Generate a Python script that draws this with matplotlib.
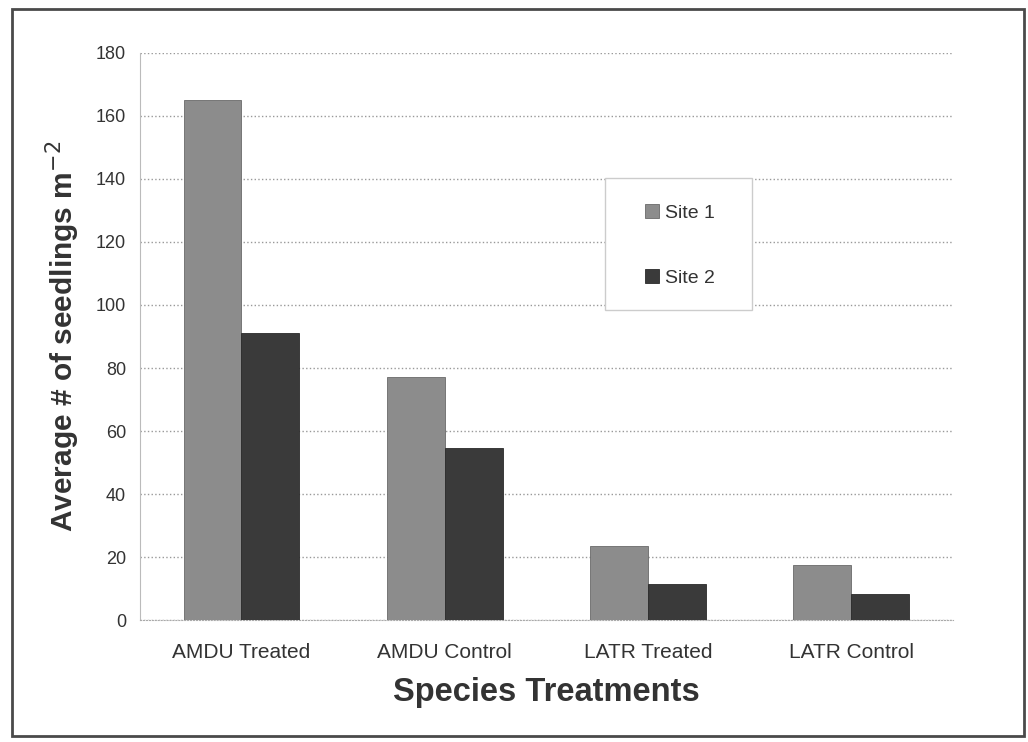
import numpy as np
import matplotlib.pyplot as plt
from matplotlib.patches import Rectangle

# data
treatments = ['AMDU Treated', 'AMDU Control', 'LATR Treated', 'LATR Control']
site1 = [165, 77, 23.5, 17.5]
site2 = [91, 54.5, 11.5, 8.5]
yticks = [0, 20, 40, 60, 80, 100, 120, 140, 160, 180]

plt.rcParams['font.family'] = ['Liberation Sans', 'DejaVu Sans']

fig = plt.figure(figsize=(10.28, 7.42), dpi=100)
ax = fig.add_axes([0.136, 0.164, 0.791, 0.765])

x = np.arange(len(treatments))
w = 0.285
ax.bar(x - w / 2, site1, w, color='#8c8c8c', edgecolor='#6a6a6a', linewidth=0.6, label='Site 1', zorder=3)
ax.bar(x + w / 2, site2, w, color='#3a3a3a', edgecolor='#2a2a2a', linewidth=0.6, label='Site 2', zorder=3)

ax.set_xlim(-0.5, 3.5)
ax.set_ylim(0, 180)
ax.set_yticks(yticks)
ax.set_xticks(x)
ax.set_xticklabels(treatments, fontsize=15, color='#333333')
ax.tick_params(axis='y', labelsize=13, labelcolor='#333333', length=0, pad=10)
ax.tick_params(axis='x', length=0, pad=16)

ax.yaxis.grid(True, linestyle=':', color='#999999', linewidth=1.0, zorder=0)
for s in ['top', 'right']:
    ax.spines[s].set_visible(False)
ax.spines['left'].set_color('#bbbbbb')
ax.spines['bottom'].set_color('#aaaaaa')
ax.spines['bottom'].set_linestyle(':')

ax.set_ylabel('Average # of seedlings m$^{-2}$', fontsize=21.5, fontweight='bold', color='#333333', labelpad=10)
ax.set_xlabel('Species Treatments', fontsize=23.5, fontweight='bold', color='#333333', labelpad=11)

# legend box drawn separately so the padding matches, entries on top of it
ax.add_patch(Rectangle((0.5885, 0.582), 0.143, 0.178, transform=fig.transFigure, clip_on=False,
                       facecolor='white', edgecolor='#cccccc', linewidth=1.0, zorder=4))
leg = ax.legend(loc='upper left', bbox_to_anchor=(0.6274, 0.725), bbox_transform=fig.transFigure,
                fontsize=14, frameon=False, labelspacing=2.45,
                handlelength=0.7, handleheight=0.7, handletextpad=0.35,
                borderpad=0, borderaxespad=0)
leg.set_zorder(5)
for t in leg.get_texts():
    t.set_color('#333333')

# outer border around the whole chart
fig.patches.append(Rectangle((0.012, 0.008), 0.984, 0.980, transform=fig.transFigure,
                             fill=False, edgecolor='#4a4a4a', linewidth=2))

fig.savefig('out.png', dpi=100)
